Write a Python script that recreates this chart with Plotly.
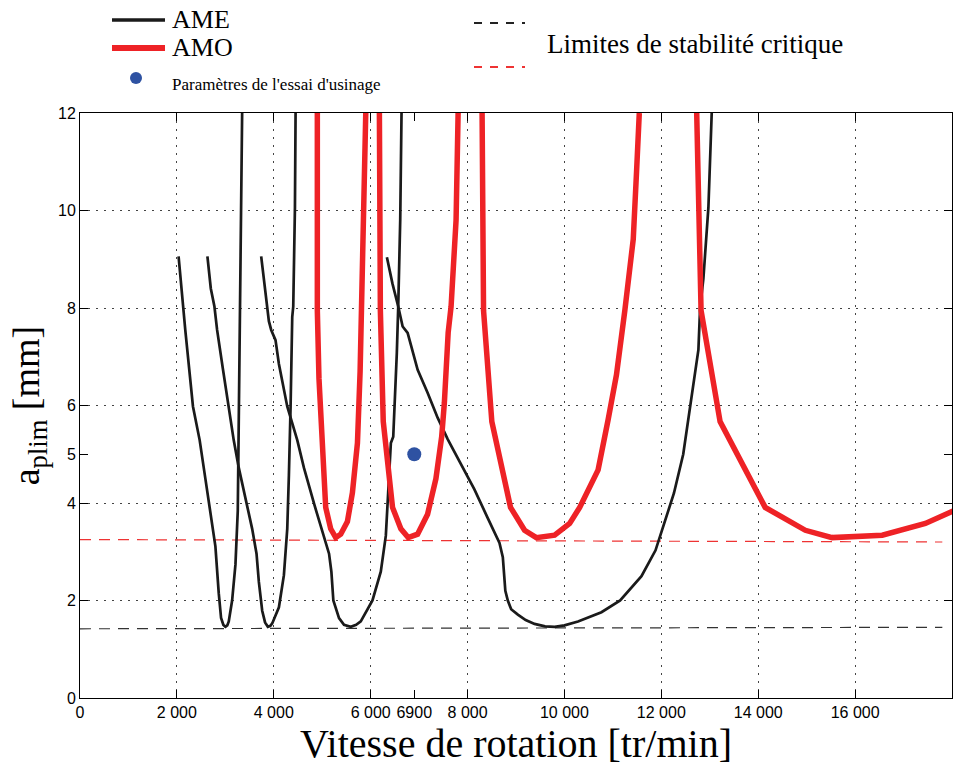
import plotly.graph_objects as go

# ---------------- data ----------------
# AME stability lobes (x: tr/min, y: mm)
ame1_x = [2035, 2125, 2173, 2332, 2470, 2588, 2691, 2795, 2864, 2912, 2960, 3002, 3040, 3071, 3140, 3209, 3257, 3272, 3285, 3305, 3326, 3347]
ame1_y = [9.06, 8.03, 7.55, 5.98, 5.29, 4.50, 3.84, 3.11, 2.15, 1.64, 1.50, 1.46, 1.49, 1.57, 2.00, 2.74, 3.84, 5.20, 6.30, 7.14, 9.34, 12.0]

ame2_x = [2630, 2700, 2775, 2830, 2950, 3070, 3173, 3278, 3416, 3554, 3644, 3692, 3761, 3820, 3878, 3930, 3968, 4106, 4209, 4278, 4312, 4333, 4347, 4381, 4402, 4437, 4450]
ame2_y = [9.06, 8.40, 8.03, 7.55, 6.75, 5.98, 5.29, 4.72, 4.06, 3.47, 2.96, 2.38, 1.79, 1.55, 1.46, 1.48, 1.53, 1.86, 2.52, 3.47, 4.57, 5.29, 5.98, 7.82, 8.03, 10.07, 12.0]

ame3_x = [3740, 3815, 3899, 3947, 4036, 4106, 4278, 4485, 4623, 4830, 5003, 5141, 5189, 5230, 5347, 5450, 5589, 5700, 5796, 6037, 6209, 6313, 6361, 6417, 6466, 6500, 6540, 6569, 6610, 6637]
ame3_y = [9.06, 8.37, 7.73, 7.55, 7.34, 6.85, 5.98, 5.29, 4.72, 3.99, 3.40, 2.96, 2.59, 2.00, 1.64, 1.50, 1.46, 1.50, 1.57, 2.00, 2.59, 3.33, 4.21, 5.23, 5.36, 6.05, 7.08, 8.03, 9.80, 12.0]

ame4_x = [6335, 6450, 6569, 6660, 6763, 6970, 7175, 7382, 7589, 7865, 8141, 8417, 8659, 8728, 8762, 8780, 8831, 8900, 9038, 9200, 9383, 9600, 9797, 10000, 10280, 10550, 10764, 11150, 11590, 11880, 12072, 12260, 12452, 12600, 12692, 12765, 12800, 12868, 12972, 13040]
ame4_y = [9.04, 8.50, 8.03, 7.62, 7.49, 6.73, 6.26, 5.75, 5.31, 4.79, 4.28, 3.69, 3.18, 2.89, 2.52, 2.20, 2.00, 1.82, 1.71, 1.60, 1.52, 1.47, 1.46, 1.49, 1.57, 1.68, 1.76, 2.00, 2.50, 3.03, 3.62, 4.20, 5.00, 6.00, 6.60, 7.14, 8.00, 8.60, 10.07, 12.0]

# AMO stability lobes
amo1_x = [4899, 4899, 4933, 5003, 5072, 5175, 5279, 5382, 5520, 5623, 5727, 5782, 5810, 5851, 5899]
amo1_y = [12.0, 7.95, 6.55, 5.31, 3.91, 3.47, 3.29, 3.36, 3.62, 4.21, 5.23, 6.70, 7.87, 9.49, 12.0]

amo2_x = [6180, 6200, 6260, 6348, 6451, 6623, 6775, 6968, 7175, 7347, 7466, 7521, 7600, 7660, 7763, 7805]
amo2_y = [12.0, 7.95, 5.67, 4.72, 3.91, 3.47, 3.29, 3.36, 3.77, 4.50, 5.36, 6.05, 7.50, 8.03, 9.80, 12.0]

amo3_x = [8300, 8330, 8501, 8694, 8887, 9177, 9419, 9797, 10108, 10315, 10695, 10902, 11074, 11247, 11420, 11489, 11545]
amo3_y = [12.0, 7.95, 5.67, 4.79, 3.91, 3.44, 3.29, 3.34, 3.58, 3.91, 4.68, 5.71, 6.63, 7.95, 9.41, 10.81, 12.0]

amo4_x = [12730, 12765, 12820, 13213, 14144, 14973, 15525, 16560, 17450, 18060]
amo4_y = [12.0, 10.07, 7.95, 5.67, 3.91, 3.44, 3.29, 3.34, 3.58, 3.85]

# critical stability limits
lim_ame_x = [0, 17800]
lim_ame_y = [1.42, 1.45]
lim_amo_x = [0, 17800]
lim_amo_y = [3.25, 3.20]

# machining test parameters
test_x = [6900]
test_y = [5.0]

# ticks
x_tickvals = [0, 2000, 4000, 6000, 8000, 10000, 12000, 14000, 16000]
x_ticktext = ["0", "2 000", "4 000", "6 000", "8 000", "10 000", "12 000", "14 000", "16 000"]
x_extra_tickvals = [6900]
x_extra_ticktext = ["6900"]
y_tickvals = [0, 2, 4, 6, 8, 10, 12]
y_ticktext = ["0", "2", "4", "6", "8", "10", "12"]
y_extra_tickvals = [5]
y_extra_ticktext = ["5"]

# ---------------- style ----------------
BLACK = "#1a1a1a"
RED = "#ee2226"
BLUE = "#2e52a2"
SERIF = "Liberation Serif"
SANS = "Liberation Sans"

fig = go.Figure()

fig.add_trace(go.Scatter(x=lim_ame_x, y=lim_ame_y, mode="lines", showlegend=False,
                         line=dict(color="#333333", width=1.2, dash="11px,8px")))
fig.add_trace(go.Scatter(x=lim_amo_x, y=lim_amo_y, mode="lines", showlegend=False,
                         line=dict(color="#ee3333", width=1.2, dash="11px,8px")))

for xs, ys in [(ame1_x, ame1_y), (ame2_x, ame2_y), (ame3_x, ame3_y), (ame4_x, ame4_y)]:
    fig.add_trace(go.Scatter(x=xs, y=ys, mode="lines", showlegend=False,
                             line=dict(color=BLACK, width=2.7)))
for xs, ys in [(amo1_x, amo1_y), (amo2_x, amo2_y), (amo3_x, amo3_y), (amo4_x, amo4_y)]:
    fig.add_trace(go.Scatter(x=xs, y=ys, mode="lines", showlegend=False,
                             line=dict(color=RED, width=5.5)))

fig.add_trace(go.Scatter(x=test_x, y=test_y, mode="markers", showlegend=False,
                         xaxis="x2", yaxis="y2",
                         marker=dict(color=BLUE, size=14, line=dict(width=0))))

axis_common = dict(ticks="inside", ticklen=8, tickcolor="black", tickwidth=1,
                   showline=True, linecolor="black", linewidth=1, mirror="ticks",
                   zeroline=False, automargin=False,
                   tickfont=dict(family=SANS, size=16, color="black"))

fig.update_layout(
    width=954, height=766,
    margin=dict(l=80, r=2, t=113, b=68, autoexpand=False),
    paper_bgcolor="white", plot_bgcolor="white",
    xaxis=dict(range=[0, 18000], tickmode="array", tickvals=x_tickvals, ticktext=x_ticktext,
               showgrid=True, gridcolor="#444444", gridwidth=1, griddash="1.5px,6.5px",
               title=dict(text="Vitesse de rotation [tr/min]", standoff=2,
                          font=dict(family=SERIF, size=40, color="black")),
               **axis_common),
    yaxis=dict(range=[0, 12], tickmode="array", tickvals=y_tickvals, ticktext=y_ticktext,
               showgrid=True, gridcolor="#444444", gridwidth=1, griddash="1.5px,6.5px",
               title=dict(text="a<sub>plim</sub> [mm]", standoff=6,
                          font=dict(family=SERIF, size=38, color="black")),
               **axis_common),
    xaxis2=dict(range=[0, 18000], overlaying="x", anchor="y2", side="bottom",
                tickmode="array", tickvals=x_extra_tickvals, ticktext=x_extra_ticktext,
                showgrid=False, **axis_common),
    yaxis2=dict(range=[0, 12], overlaying="y", anchor="x2", side="left",
                tickmode="array", tickvals=y_extra_tickvals, ticktext=y_extra_ticktext,
                showgrid=False, **axis_common),
)

# ---------------- custom legend (paper coordinates) ----------------
def px_x(p):
    return (p - 80) / 872.0

def px_y(p):
    return (698 - p) / 585.0

shapes = [
    dict(type="line", xref="paper", yref="paper", x0=px_x(112), x1=px_x(165), y0=px_y(20), y1=px_y(20),
         line=dict(color=BLACK, width=3.5)),
    dict(type="line", xref="paper", yref="paper", x0=px_x(112), x1=px_x(165), y0=px_y(48), y1=px_y(48),
         line=dict(color=RED, width=6)),
    dict(type="circle", xref="paper", yref="paper", xsizemode="pixel", ysizemode="pixel",
         xanchor=px_x(136), yanchor=px_y(78), x0=-6, x1=6, y0=-6, y1=6,
         fillcolor=BLUE, line=dict(width=0)),
    dict(type="line", xref="paper", yref="paper", x0=px_x(474), x1=px_x(525), y0=px_y(23), y1=px_y(23),
         line=dict(color="#222222", width=2, dash="8px,8px")),
    dict(type="line", xref="paper", yref="paper", x0=px_x(474), x1=px_x(525), y0=px_y(67), y1=px_y(67),
         line=dict(color="#ee3333", width=2, dash="8px,8px")),
]
fig.update_layout(shapes=shapes)

ann = [
    dict(text="AME", x=px_x(170), y=px_y(20), size=26),
    dict(text="AMO", x=px_x(170), y=px_y(48), size=26),
    dict(text="Paramètres de l'essai d'usinage", x=px_x(170), y=px_y(85), size=17),
    dict(text="Limites de stabilité critique", x=px_x(545), y=px_y(44), size=27),
]
for a in ann:
    fig.add_annotation(text=a["text"], x=a["x"], y=a["y"], xref="paper", yref="paper",
                       xanchor="left", yanchor="middle", showarrow=False,
                       font=dict(family=SERIF, size=a["size"], color="black"))

fig.write_html("out.html", config={"displayModeBar": False},
               post_script="document.body.style.margin='0';document.body.style.overflow='hidden';")
